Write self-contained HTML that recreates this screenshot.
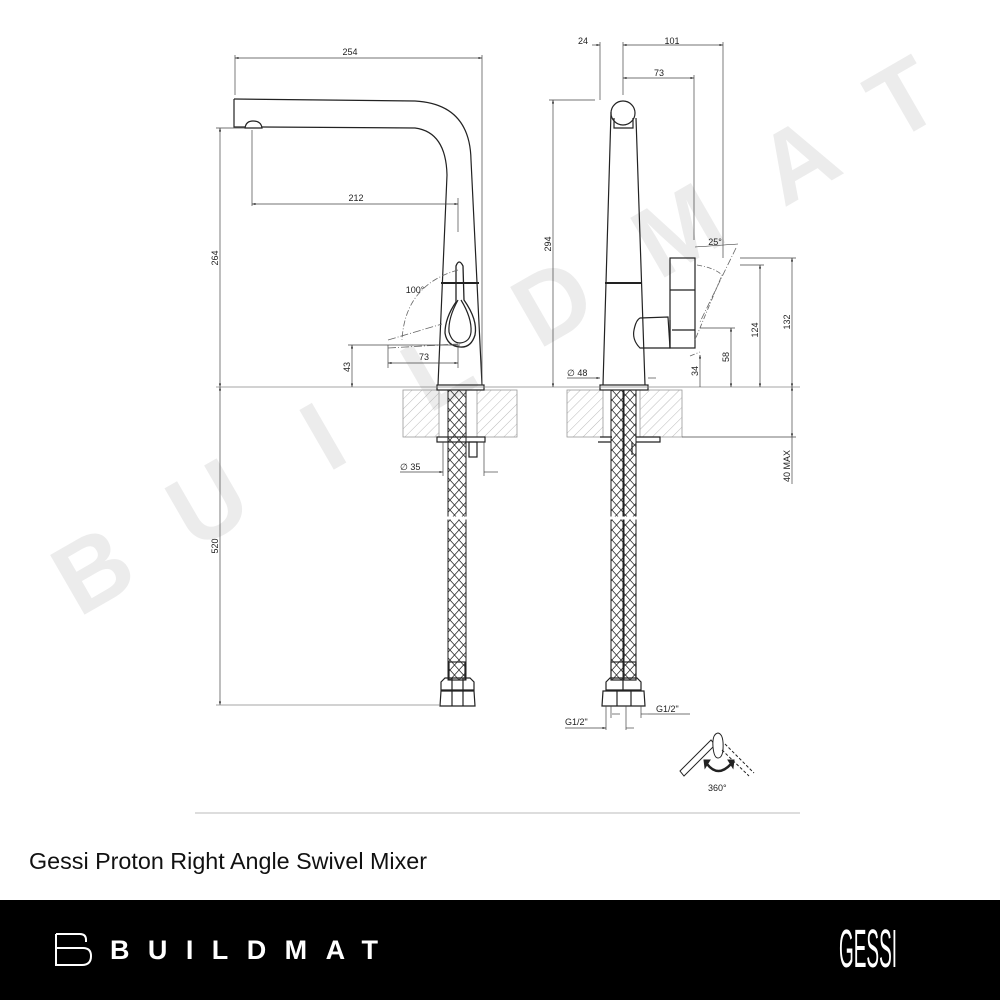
<!DOCTYPE html>
<html><head><meta charset="utf-8"><style>
html,body{margin:0;padding:0;background:#fff;width:1000px;height:1000px;overflow:hidden;font-family:"Liberation Sans",sans-serif}
svg{position:absolute;left:0;top:0}
</style></head><body>
<svg width="1000" height="1000" viewBox="0 0 1000 1000" xmlns="http://www.w3.org/2000/svg">
<defs>
<pattern id="hatch" width="7" height="7" patternUnits="userSpaceOnUse" patternTransform="rotate(45)">
<line x1="0" y1="0" x2="0" y2="7" stroke="#aaa" stroke-width="0.8"/>
</pattern>
<pattern id="braid" width="9" height="10" patternUnits="userSpaceOnUse">
<path d="M0,0 L9,10 M9,0 L0,10" stroke="#333" stroke-width="0.8" fill="none"/>
</pattern>
<marker id="ar" viewBox="0 0 10 10" refX="10" refY="5" markerWidth="7" markerHeight="5" orient="auto-start-reverse"><path d="M0,2 L10,5 L0,8z" fill="#222"/></marker>
</defs>

<!-- watermark -->
<g fill="#ececec" font-family="Liberation Sans,sans-serif" font-weight="bold" font-size="100" text-anchor="middle">
<text transform="translate(110,600) rotate(-30)">B</text>
<text transform="translate(225,533) rotate(-30)">U</text>
<text transform="translate(340,466) rotate(-30)">I</text>
<text transform="translate(455,399) rotate(-30)">L</text>
<text transform="translate(570,332) rotate(-30)">D</text>
<text transform="translate(695,260) rotate(-30)">M</text>
<text transform="translate(815,190) rotate(-30)">A</text>
<text transform="translate(920,128) rotate(-30)">T</text>
</g>

<g stroke="#222" fill="none" stroke-width="1.2">
<rect x="403" y="390" width="36" height="47" fill="url(#hatch)" stroke="#999" stroke-width="0.8"/>
<rect x="477" y="390" width="40" height="47" fill="url(#hatch)" stroke="#999" stroke-width="0.8"/>
<rect x="567" y="390" width="36" height="47" fill="url(#hatch)" stroke="#999" stroke-width="0.8"/>
<rect x="640" y="390" width="42" height="47" fill="url(#hatch)" stroke="#999" stroke-width="0.8"/>

<path d="M234,99 L415,101 Q470,104 471,160 L482,385"/>
<path d="M234,99 L234,127 L245,127 M262,127 L415,128 Q446,132 447,175 L438,385"/>
<path d="M245,128 Q246,121 253,121 Q261,121 262,128 Z" />
<line x1="441" y1="283" x2="479" y2="283" stroke-width="2"/>
<path d="M456,266 Q459,258 463,266 L464,300 Q478,320 475,335 Q471,348 460,347 Q447,346 445,333 Q445,318 456,302 Z" stroke-width="1.3"/>
<path d="M458,300 Q448,318 449,332 Q452,343 460,343 Q470,342 471,332 Q472,318 461,300"/>
<path d="M458,270 Q405,285 402,340" stroke="#666" stroke-width="0.8" stroke-dasharray="6,2,1,2"/>
<path d="M388,340 L442,324 M388,348 L458,344" stroke="#666" stroke-width="0.8" stroke-dasharray="8,2,1,2"/>
<rect x="437" y="385" width="47" height="5"/>
<rect x="448" y="390" width="18" height="290" fill="url(#braid)" stroke-width="1"/>
<line x1="446" y1="518" x2="468" y2="518" stroke="#fff" stroke-width="3"/>
<rect x="437" y="437" width="48" height="5"/>
<rect x="469" y="442" width="8" height="15"/>
<rect x="449" y="662" width="16" height="18"/>
<path d="M441,682 L445,678 L470,678 L474,682 L474,690 L441,690 Z M441,691 L474,691 L475,706 L440,706 Z"/>
<line x1="452" y1="678" x2="452" y2="706"/><line x1="463" y1="678" x2="463" y2="706"/>

<path d="M611,112 L603,385 M636,118 L645,385"/>
<circle cx="623" cy="113" r="12"/>
<path d="M614,118 L614,128 L633,128 L633,118"/>
<line x1="605" y1="283" x2="641" y2="283" stroke-width="2"/>
<rect x="670" y="258" width="25" height="90"/>
<path d="M670,290 L695,290 M672,330 L695,330"/>
<path d="M640,318 L668,317 L670,348 L640,348 Q632,340 634,330 Q636,320 640,318 Z"/>
<path d="M670,320 L670,348"/>
<path d="M697,265 Q715,268 722,275 L695,340 M690,356 L700,352" stroke="#666" stroke-width="0.8" stroke-dasharray="5,2,1,2"/>
<path d="M736,248 L700,322" stroke="#666" stroke-width="0.8" stroke-dasharray="7,2,1,2"/>
<path d="M695,247 L738,244" stroke="#222" stroke-width="0.6"/>
<rect x="600" y="385" width="48" height="5"/>
<rect x="611" y="390" width="12" height="290" fill="url(#braid)" stroke-width="1"/>
<rect x="624" y="390" width="12" height="290" fill="url(#braid)" stroke-width="1"/>
<line x1="608" y1="518" x2="640" y2="518" stroke="#fff" stroke-width="3"/>
<path d="M600,437 L612,437 M636,437 L660,437 L660,442 L636,442 M598,442 L611,442"/>
<line x1="632" y1="442" x2="632" y2="455"/>
<rect x="611" y="662" width="25" height="18"/>
<path d="M606,682 L610,678 L637,678 L641,682 L641,690 L606,690 Z M603,691 L644,691 L645,706 L602,706 Z"/>
<line x1="617" y1="691" x2="617" y2="706"/><line x1="631" y1="691" x2="631" y2="706"/><line x1="623" y1="678" x2="623" y2="690"/>
</g>

<g stroke="#444" stroke-width="0.7" fill="none">
<line x1="235" y1="55" x2="235" y2="95"/><line x1="482" y1="55" x2="482" y2="385"/>
<line x1="235" y1="58" x2="482" y2="58" marker-start="url(#ar)" marker-end="url(#ar)"/>
<line x1="252" y1="130" x2="252" y2="206"/><line x1="458" y1="198" x2="458" y2="232"/>
<line x1="252" y1="204" x2="458" y2="204" marker-start="url(#ar)" marker-end="url(#ar)"/>
<line x1="216" y1="128" x2="245" y2="128"/>
<line x1="220" y1="128" x2="220" y2="387" marker-start="url(#ar)" marker-end="url(#ar)"/>
<line x1="216" y1="387" x2="800" y2="387" stroke="#888"/>
<line x1="220" y1="387" x2="220" y2="705" marker-start="url(#ar)" marker-end="url(#ar)"/>
<line x1="216" y1="705" x2="440" y2="705" stroke="#888"/>
<line x1="348" y1="345" x2="460" y2="345"/>
<line x1="352" y1="345" x2="352" y2="387" marker-start="url(#ar)" marker-end="url(#ar)"/>
<line x1="388" y1="345" x2="388" y2="368"/><line x1="458" y1="345" x2="458" y2="368"/>
<line x1="388" y1="363" x2="458" y2="363" marker-start="url(#ar)" marker-end="url(#ar)"/>
<line x1="400" y1="472" x2="443" y2="472" marker-end="url(#ar)"/><line x1="484" y1="472" x2="498" y2="472"/>
<line x1="443" y1="442" x2="443" y2="476"/><line x1="484" y1="442" x2="484" y2="476"/>
<line x1="600" y1="42" x2="600" y2="100"/><line x1="623" y1="42" x2="623" y2="95"/><line x1="723" y1="42" x2="723" y2="258"/><line x1="694" y1="75" x2="694" y2="240"/>
<line x1="592" y1="45" x2="600" y2="45" marker-end="url(#ar)"/>
<line x1="623" y1="45" x2="723" y2="45" marker-start="url(#ar)" marker-end="url(#ar)"/>
<line x1="623" y1="78" x2="694" y2="78" marker-start="url(#ar)" marker-end="url(#ar)"/>
<line x1="549" y1="100" x2="595" y2="100"/>
<line x1="553" y1="100" x2="553" y2="387" marker-start="url(#ar)" marker-end="url(#ar)"/>
<line x1="740" y1="258" x2="796" y2="258"/><line x1="740" y1="265" x2="764" y2="265"/>
<line x1="700" y1="328" x2="735" y2="328"/>
<line x1="792" y1="258" x2="792" y2="387" marker-start="url(#ar)" marker-end="url(#ar)"/>
<line x1="760" y1="265" x2="760" y2="387" marker-start="url(#ar)" marker-end="url(#ar)"/>
<line x1="731" y1="328" x2="731" y2="387" marker-start="url(#ar)" marker-end="url(#ar)"/>
<line x1="700" y1="355" x2="700" y2="387" marker-start="url(#ar)"/>
<line x1="567" y1="378" x2="600" y2="378" marker-end="url(#ar)"/><line x1="648" y1="378" x2="656" y2="378"/>
<line x1="682" y1="437" x2="796" y2="437"/>
<line x1="792" y1="387" x2="792" y2="437" marker-start="url(#ar)" marker-end="url(#ar)"/>
<line x1="792" y1="437" x2="792" y2="484"/>
<line x1="606" y1="706" x2="606" y2="730"/><line x1="626" y1="706" x2="626" y2="730"/><line x1="611" y1="706" x2="611" y2="718"/><line x1="641" y1="706" x2="641" y2="718"/>
<line x1="565" y1="728" x2="606" y2="728" marker-end="url(#ar)"/><line x1="626" y1="728" x2="634" y2="728"/>
<line x1="612" y1="714" x2="620" y2="714"/><line x1="641" y1="714" x2="648" y2="714" /><line x1="648" y1="714" x2="690" y2="714"/>
<line x1="195" y1="813" x2="800" y2="813" stroke="#bbb" stroke-width="1"/>
</g>

<g stroke="#222" fill="none" stroke-width="1">
<path d="M680,771 L711,740 L715,745 L684,776 Z"/>
<path d="M713,747 Q712,734 718,733 Q724,734 723,750 Q722,758 718,758 Q714,758 713,747 Z" fill="#fff"/>
<path d="M725,744 L754,773 M722,750 L749,776" stroke-dasharray="3,2"/>
<path d="M707,764 Q718,778 731,764" stroke-width="2.5"/>
<path d="M704,760 L710,760 L705,768Z M734,760 L728,760 L733,768Z" fill="#222"/>
</g>

<g font-family="Liberation Sans,sans-serif" font-size="9" fill="#222">
<text x="350" y="55" text-anchor="middle">254</text>
<text x="356" y="201" text-anchor="middle">212</text>
<text transform="translate(218,258) rotate(-90)" text-anchor="middle">264</text>
<text transform="translate(218,546) rotate(-90)" text-anchor="middle">520</text>
<text transform="translate(350,367) rotate(-90)" text-anchor="middle">43</text>
<text x="424" y="360" text-anchor="middle">73</text>
<text x="415" y="293" text-anchor="middle">100°</text>
<text x="400" y="470">∅ 35</text>
<text x="583" y="44" text-anchor="middle">24</text>
<text x="672" y="44" text-anchor="middle">101</text>
<text x="659" y="76" text-anchor="middle">73</text>
<text transform="translate(551,244) rotate(-90)" text-anchor="middle">294</text>
<text x="715" y="245" text-anchor="middle">25°</text>
<text transform="translate(790,322) rotate(-90)" text-anchor="middle">132</text>
<text transform="translate(758,330) rotate(-90)" text-anchor="middle">124</text>
<text transform="translate(729,357) rotate(-90)" text-anchor="middle">58</text>
<text transform="translate(698,371) rotate(-90)" text-anchor="middle">34</text>
<text x="567" y="376">∅ 48</text>
<text transform="translate(790,466) rotate(-90)" text-anchor="middle">40 MAX</text>
<text x="565" y="725">G1/2"</text>
<text x="656" y="712">G1/2"</text>
<text x="708" y="791">360°</text>
</g>

<text x="29" y="869" font-family="Liberation Sans,sans-serif" font-size="23" fill="#111" textLength="398" lengthAdjust="spacingAndGlyphs">Gessi Proton Right Angle Swivel Mixer</text>

<rect x="0" y="900" width="1000" height="100" fill="#000"/>
<path d="M56,934 L80,934 Q86,934 86,940 L86,942 M56,934 L56,948 L83,948 Q91,948 91,956 Q91,965 82,965 L56,965 L56,948" stroke="#fff" stroke-width="2" fill="none"/>
<text x="110" y="959" font-family="Liberation Sans,sans-serif" font-weight="bold" font-size="27" fill="#fff" textLength="268" lengthAdjust="spacing">BUILDMAT</text>
<text x="839" y="967" font-family="Liberation Sans,sans-serif" font-size="54" fill="#fff" textLength="58" lengthAdjust="spacingAndGlyphs">GESSI</text>
</svg>
</body></html>
